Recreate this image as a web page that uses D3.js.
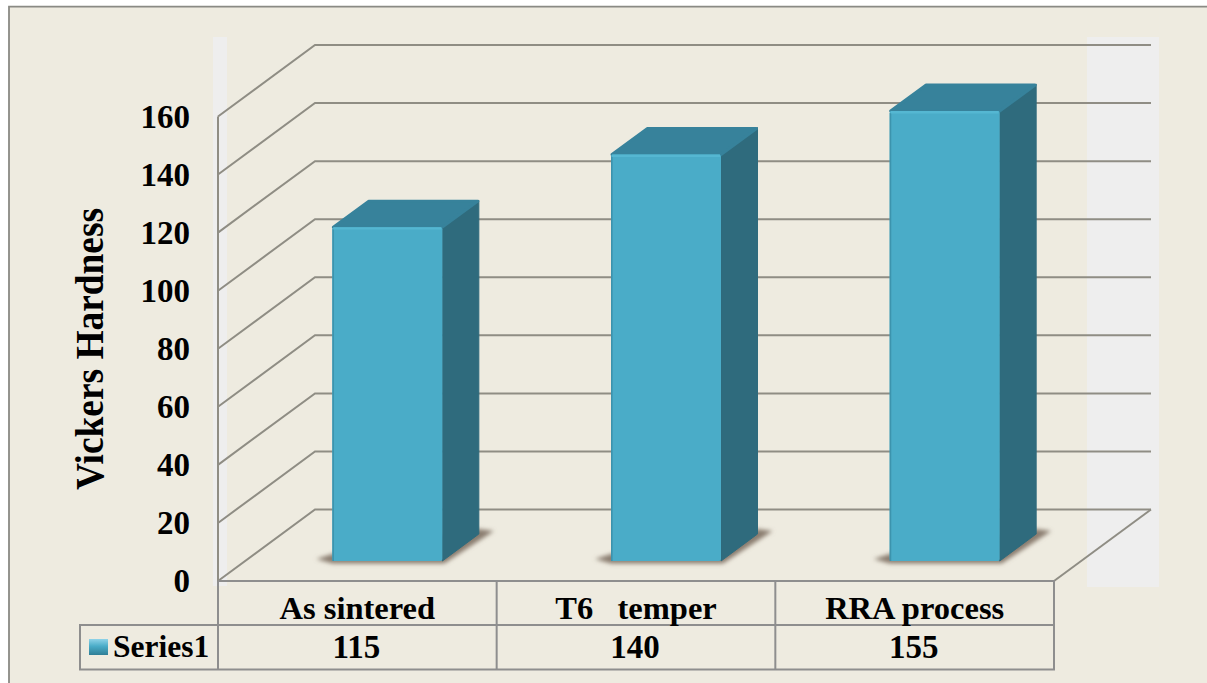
<!doctype html>
<html>
  <head>
    <title>Vickers hardness</title>
    <script src="https://d3js.org/d3.v7.min.js"></script>
    <style>
      html, body { margin: 0; padding: 0; background: #fff; }
      svg { display: block; }
      text { font-family: "Liberation Serif", serif; font-weight: bold; fill: #000; }
      .grid { fill: none; stroke: #8f8d84; stroke-width: 2; }
      .cell { stroke: #8e8e8e; stroke-width: 2; fill: none; }
    </style>
  </head>
  <body>
    <script>
      var categories = ["As sintered", "T6   temper", "RRA process"];
      var seriesName = "Series1";
      var hardness = [115, 140, 155];
      var yTicks = [0, 20, 40, 60, 80, 100, 120, 140, 160];
      var yTitle = "Vickers Hardness";

      var w_svg = 1207;
      var h_svg = 683;

      // front plane of the 3d box and how far the back wall is pushed away
      var left = 218, right = 1054, y0 = 581, y160 = 116.5;
      var depth_x = 97, depth_y = -71.5;
      // bars stand part way into the box
      var bar_in_x = 30, bar_in_y = -20, bar_width = 110;
      var bar_dx = 36.5, bar_dy = -27;

      var y = d3.scaleLinear().domain([0, 160]).range([y0, y160]);
      var x = d3.scaleBand().domain(categories).range([left, right]);

      var svg = d3.select("body").append("svg")
                  .attr("width", w_svg)
                  .attr("height", h_svg);

      var defs = svg.append("defs");
      defs.append("filter").attr("id", "soft")
          .attr("x", "-20%").attr("y", "-50%").attr("width", "140%").attr("height", "200%")
          .append("feGaussianBlur").attr("stdDeviation", 2.2);

      var key = defs.append("linearGradient").attr("id", "key")
                    .attr("x1", 0).attr("y1", 0).attr("x2", 0).attr("y2", 1);
      key.append("stop").attr("offset", "0%").attr("stop-color", "#8fd3e8");
      key.append("stop").attr("offset", "45%").attr("stop-color", "#4aacc8");
      key.append("stop").attr("offset", "100%").attr("stop-color", "#2f7e96");

      // page background with the frame along the top and left only
      svg.append("rect").attr("x", 9).attr("y", 6)
         .attr("width", w_svg - 9).attr("height", h_svg - 6)
         .attr("fill", "#eeebe0");
      svg.append("path").attr("d", "M9," + h_svg + "V6.7H" + w_svg)
         .attr("fill", "none").attr("stroke", "#8a8a84").attr("stroke-width", 1.8);

      // pale side panels behind the box
      svg.append("rect").attr("x", 213).attr("y", 37).attr("width", 14).attr("height", 549).attr("fill", "#eeeeee");
      svg.append("rect").attr("x", 1087).attr("y", 37).attr("width", 72).attr("height", 550).attr("fill", "#eeeeee");

      // gridlines run up the side wall and along the back wall
      svg.selectAll(".grid").data(yTicks).enter().append("path")
         .attr("class", "grid")
         .attr("d", function(d) {
           return "M" + left + "," + y(d) +
                  "L" + (left + depth_x) + "," + (y(d) + depth_y) +
                  "H" + (right + depth_x);
         });

      // floor edge and vertical axis
      svg.append("path").attr("class", "grid")
         .attr("d", "M" + right + "," + y0 + "L" + (right + depth_x) + "," + (y0 + depth_y));
      svg.append("path").attr("class", "grid")
         .attr("d", "M" + left + "," + y0 + "V" + y160);

      // value labels on the left
      var yAxis = d3.axisLeft(y).tickValues(yTicks).tickSize(0).tickPadding(28);
      var yg = svg.append("g").attr("transform", "translate(" + left + ",0)").call(yAxis);
      yg.select(".domain").remove();
      yg.selectAll("text").attr("font-size", 33).style("font-family", "Liberation Serif").attr("font-weight", "bold");

      svg.append("text").text(yTitle)
         .attr("transform", "translate(103,349) rotate(-90)")
         .attr("text-anchor", "middle")
         .attr("font-size", 40)
         .attr("textLength", 282)
         .attr("lengthAdjust", "spacingAndGlyphs");

      function barX(c) { return x(c) + x.bandwidth() / 2 + bar_in_x - bar_width / 2; }
      function barBase() { return y0 + bar_in_y; }
      function barTop(v) { return y(v) + bar_in_y; }
      function pts(a) { return a.map(function(p) { return p.join(","); }).join(" "); }

      var rows = categories.map(function(c, i) { return { c: c, v: hardness[i] }; });
      var bar = svg.selectAll(".bar").data(rows).enter().append("g").attr("class", "bar");

      // shadow on the floor, tapering away from the bar
      bar.append("polygon")
         .attr("points", function(d) {
           var l = barX(d.c), b = barBase(), r = l + bar_width;
           return pts([[l, b - 7], [l - 16, b - 2], [l, b + 2.5], [r + 2, b + 2.5],
                       [r + bar_dx + 15, b + bar_dy - 3], [r + bar_dx, b + bar_dy - 5]]);
         })
         .attr("fill", "#8a7d70")
         .attr("filter", "url(#soft)");

      // side face
      bar.append("polygon")
         .attr("points", function(d) {
           var l = barX(d.c), t = barTop(d.v), b = barBase(), r = l + bar_width;
           return pts([[r, t], [r + bar_dx, t + bar_dy], [r + bar_dx, b + bar_dy], [r, b]]);
         })
         .attr("fill", "#2f6b7d").attr("stroke", "#2f6b7d").attr("stroke-width", 1).attr("stroke-linejoin", "round");

      // top face
      bar.append("polygon")
         .attr("points", function(d) {
           var l = barX(d.c), t = barTop(d.v), r = l + bar_width;
           return pts([[l + 1, t], [l + bar_dx, t + bar_dy + 1], [r + bar_dx - 1, t + bar_dy + 1], [r, t]]);
         })
         .attr("fill", "#37829b").attr("stroke", "#37829b").attr("stroke-width", 3).attr("stroke-linejoin", "round");

      // front face
      bar.append("rect")
         .attr("x", function(d) { return barX(d.c); })
         .attr("y", function(d) { return barTop(d.v); })
         .attr("width", bar_width)
         .attr("height", function(d) { return barBase() - barTop(d.v); })
         .attr("rx", 2)
         .attr("fill", "#4aacc8");

      // darker left edge and lit top edge of the front face
      bar.append("path")
         .attr("d", function(d) {
           return "M" + (barX(d.c) + 0.8) + "," + (barTop(d.v) + 2) + "V" + barBase();
         })
         .attr("stroke", "#3c93ad").attr("stroke-width", 1.6);
      bar.append("path")
         .attr("d", function(d) {
           return "M" + (barX(d.c) + 1) + "," + (barTop(d.v) + 1.2) + "h" + (bar_width - 2);
         })
         .attr("stroke", "#55b7d2").attr("stroke-width", 2.4);

      // data table under the floor
      var row1 = y0, row2 = 625, row3 = 669.5, key_left = 80;
      svg.append("path").attr("class", "cell")
         .attr("d", "M" + left + "," + row1 + "H" + right + "V" + row3 + "H" + key_left + "V" + row2 + "H" + right);
      svg.selectAll(".col").data(d3.range(categories.length)).enter().append("path")
         .attr("class", "cell col")
         .attr("d", function(i) { return "M" + (left + i * x.step()) + "," + row1 + "V" + row3; });

      svg.selectAll(".cat").data(categories).enter().append("text")
         .attr("class", "cat")
         .attr("x", function(d) { return x(d) + x.bandwidth() / 2; })
         .attr("y", 619)
         .attr("text-anchor", "middle")
         .attr("font-size", 32.5)
         .style("white-space", "pre")
         .text(function(d) { return d; });

      svg.selectAll(".val").data(rows).enter().append("text")
         .attr("class", "val")
         .attr("x", function(d) { return x(d.c) + x.bandwidth() / 2 - 1; })
         .attr("y", 658)
         .attr("text-anchor", "middle")
         .attr("font-size", 33)
         .text(function(d) { return d.v; });

      // legend key and series name
      svg.append("rect").attr("x", 89).attr("y", 639).attr("width", 19).attr("height", 16).attr("fill", "url(#key)");
      svg.append("text").text(seriesName).attr("x", 113).attr("y", 657).attr("font-size", 31.5);
    </script>
  </body>
</html>
